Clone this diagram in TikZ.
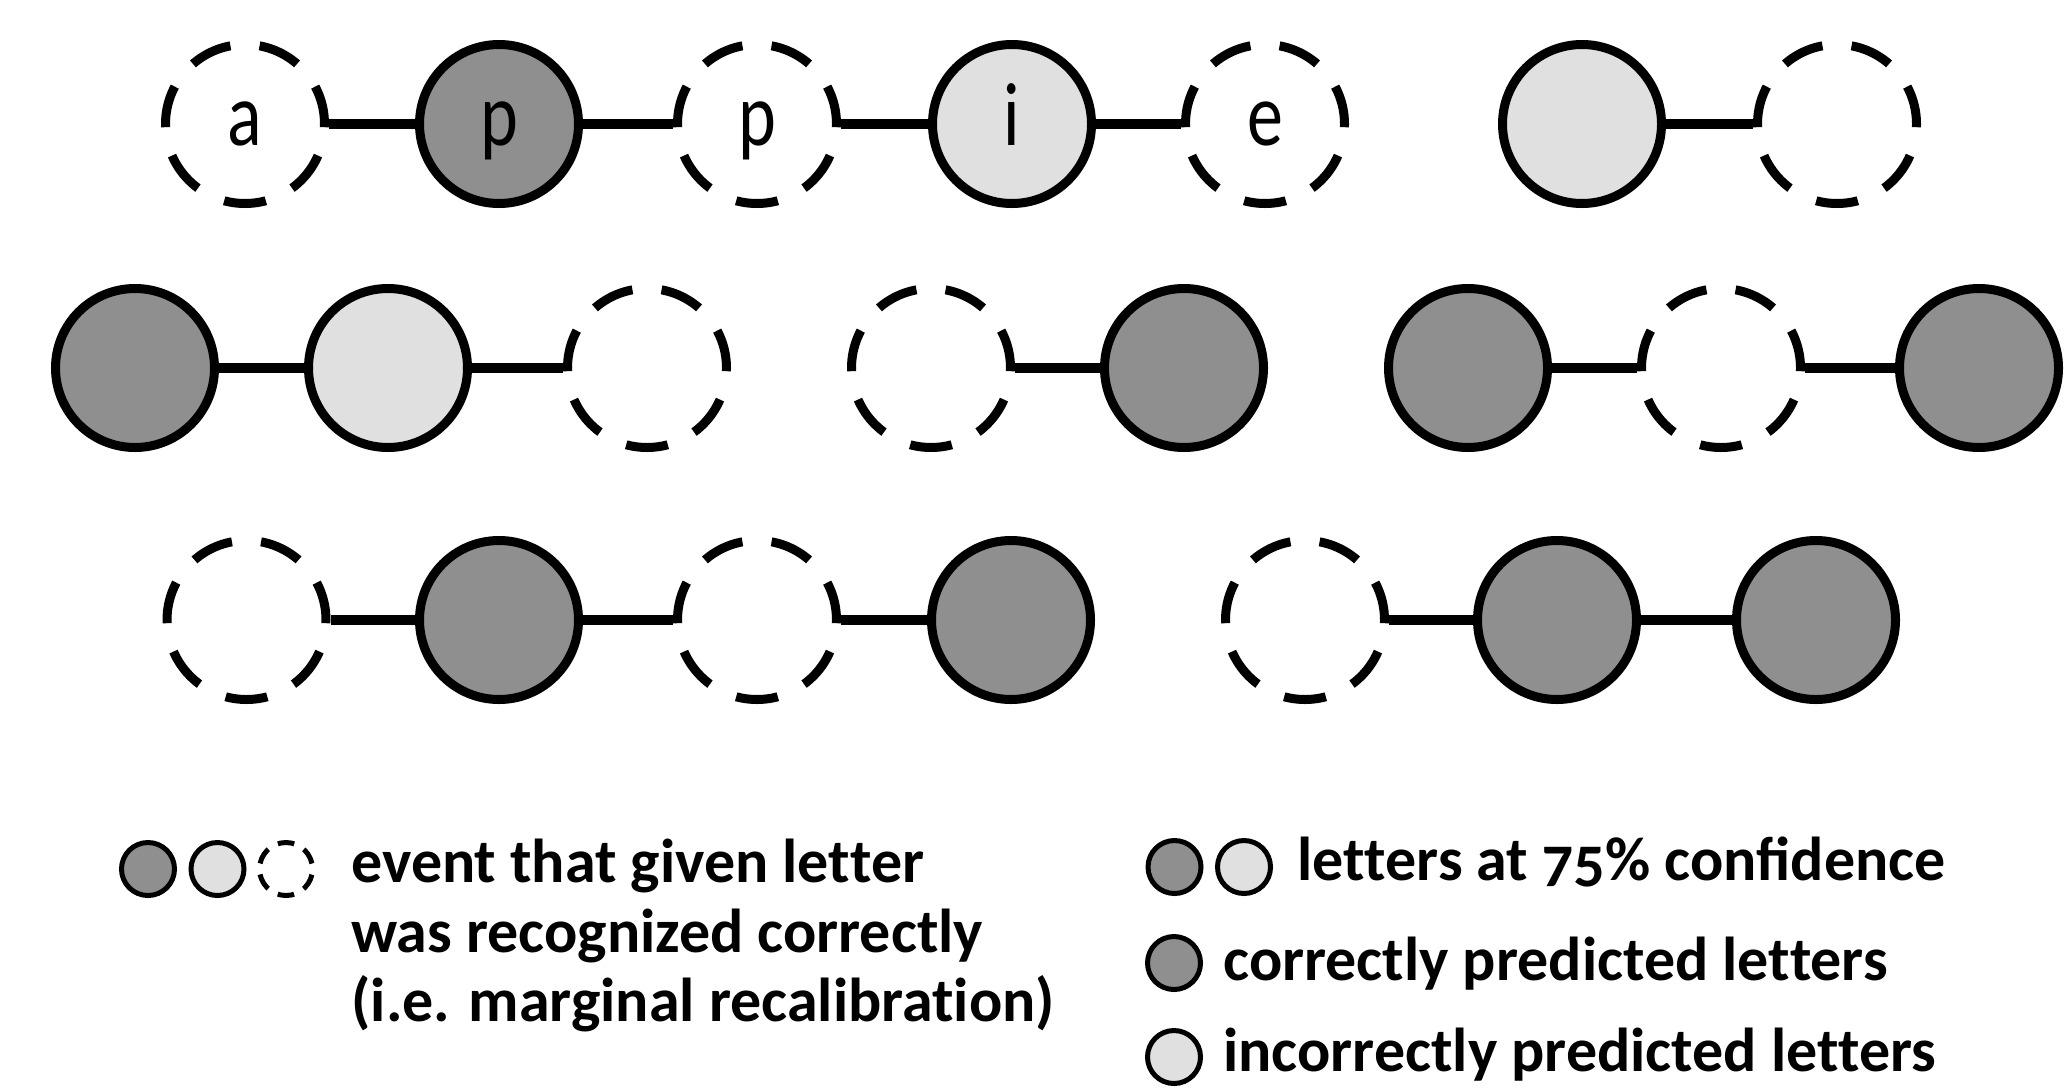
\documentclass[tikz,border=0pt]{standalone}
\usepackage{fontspec}
\setmainfont{Carlito}[Numbers=OldStyle]
\usepackage{graphicx}
\definecolor{dkg}{RGB}{143,143,143}
\definecolor{ltg}{RGB}{224,224,224}
\newcommand\cltr[1]{{\fontsize{45}{50}\selectfont\smash{\raisebox{-0.5ex}{\scalebox{0.8}[1]{#1}}}}}
\begin{document}
\begin{tikzpicture}[x=0.5pt,y=-0.5pt,
  base/.style={circle,inner sep=0pt,minimum size=79.5pt,line width=4.5pt},
  dk/.style={base,draw,fill=dkg},
  lt/.style={base,draw,fill=ltg},
  ds/.style={base,draw,dash pattern=on 21.05pt off 14.63pt,dash phase=1.6pt},
  conn/.style={line width=5.25pt},
  sbase/.style={circle,inner sep=0pt,minimum size=26.5pt,line width=2.5pt},
  sdk/.style={sbase,draw,fill=dkg},
  slt/.style={sbase,draw,fill=ltg},
  sds/.style={sbase,draw,dash pattern=on 8.3pt off 5.55pt,dash phase=11.1pt},
  lbl/.style={font=\fontsize{31}{40}\selectfont\bfseries,anchor=base west,inner sep=0pt},
]
\useasboundingbox (0,0) rectangle (2066,1088);
\clip (0,0) rectangle (2066,1088);
% row 1
\node[ds] (a1) at (245,124) {\cltr{a}};
\node[dk] (a2) at (499,124) {\cltr{p}};
\node[ds] (a3) at (757,124) {\cltr{p}};
\node[lt] (a4) at (1012,124) {\cltr{i}};
\node[ds] (a5) at (1265,124) {\cltr{e}};
\node[lt] (a6) at (1582,124) {};
\node[ds] (a7) at (1837,124) {};
\draw[conn] (a1) -- (a2);
\draw[conn] (a2) -- (a3);
\draw[conn] (a3) -- (a4);
\draw[conn] (a4) -- (a5);
\draw[conn] (a6) -- (a7);
% row 2
\node[dk] (b1) at (135,368) {};
\node[lt] (b2) at (388,368) {};
\node[ds] (b3) at (647,368) {};
\node[ds] (b4) at (931,368) {};
\node[dk] (b5) at (1184,368) {};
\node[dk] (b6) at (1468,368) {};
\node[ds] (b7) at (1721,368) {};
\node[dk] (b8) at (1979,368) {};
\draw[conn] (b1) -- (b2);
\draw[conn] (b2) -- (b3);
\draw[conn] (b4) -- (b5);
\draw[conn] (b6) -- (b7);
\draw[conn] (b7) -- (b8);
% row 3
\node[ds] (c1) at (246.5,620) {};
\node[dk] (c2) at (499,620) {};
\node[ds] (c3) at (757,620) {};
\node[dk] (c4) at (1011,620) {};
\node[ds] (c5) at (1305,620) {};
\node[dk] (c6) at (1557,620) {};
\node[dk] (c7) at (1816,620) {};
\draw[conn] (c1) -- (c2);
\draw[conn] (c2) -- (c3);
\draw[conn] (c3) -- (c4);
\draw[conn] (c5) -- (c6);
\draw[conn] (c6) -- (c7);
% legend left
\node[sdk] (l1) at (148,869) {};
\node[slt] (l2) at (217.5,869) {};
\node[sds] (l3) at (286,869) {};
\node[lbl] (t1) at (351,882) {event that given let\kern0pt ter};
\node[lbl] (t2) at (351,952) {was recognized correctly};
\node[lbl] (t3) at (351,1021) {(i.e. marginal recalibrat\kern0pt ion)};
% legend right
\node[sdk] (r1) at (1174.5,867) {};
\node[slt] (r2) at (1244,867) {};
\node[lbl] (u1) at (1297,880) {let\kern0pt ters at 75\% confidence};
\node[sdk] (r3) at (1174,963) {};
\node[lbl] (u2) at (1223,980) {correctly predicted let\kern0pt ters};
\node[slt] (r4) at (1174,1057) {};
\node[lbl] (u3) at (1223,1071) {incorrectly predicted let\kern0pt ters};
\end{tikzpicture}
\end{document}
